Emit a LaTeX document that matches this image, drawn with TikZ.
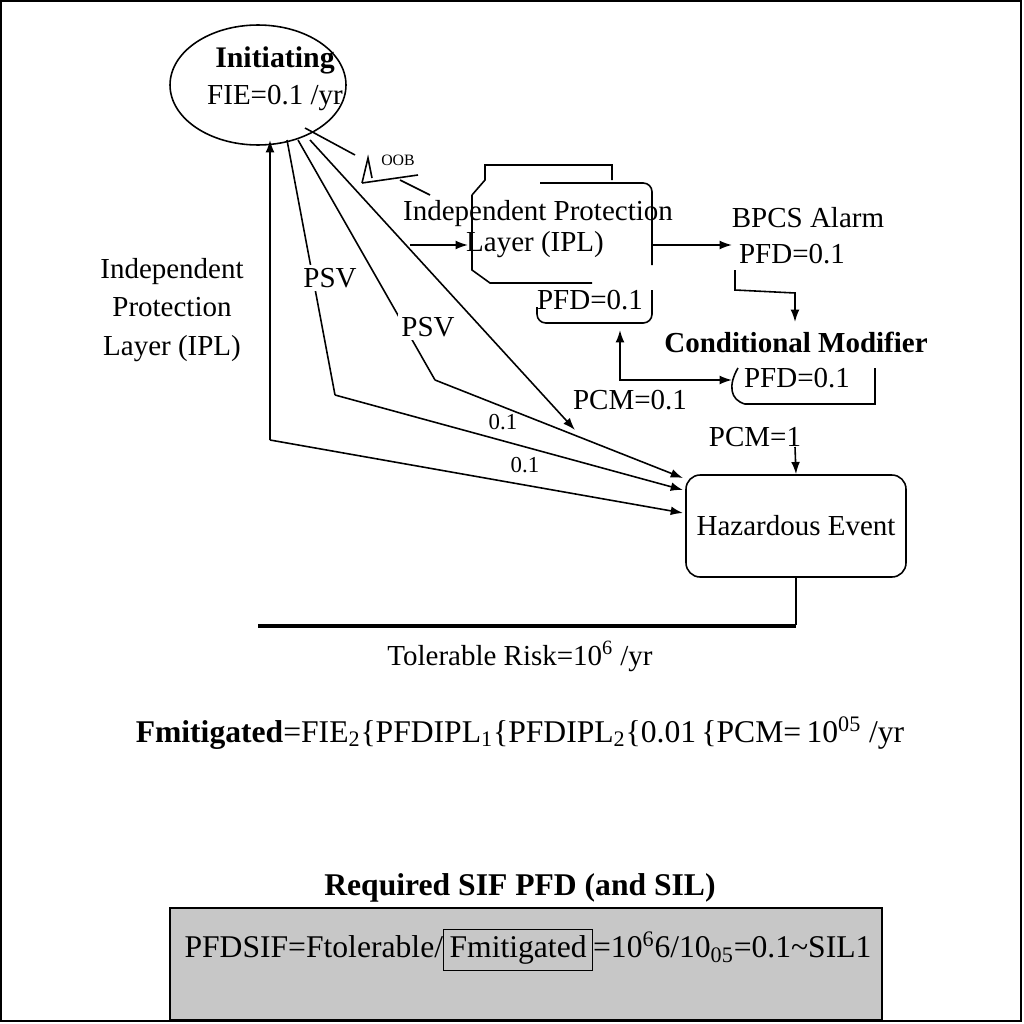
\documentclass[tikz,border=0pt]{standalone}
\usepackage{fontspec}
\setmainfont{Liberation Serif}
\usetikzlibrary{arrows.meta,shapes.geometric}
\newcommand{\fsz}{\fontsize{16.5}{18}\selectfont}
\begin{document}
\begin{tikzpicture}[x=0.02cm,y=-0.02cm,
  every node/.style={font=\fsz, inner sep=1pt},
  ln/.style={line width=0.9pt},
  ar/.style={ln,-{Latex[length=7pt,width=5pt]}},
  lab/.style={fill=white, inner sep=2pt}]
\useasboundingbox (0,0) rectangle (1024,1024);
\draw[line width=1pt] (1,1) rectangle (1021,1021);
% initiating
\node[draw,ellipse,ln,minimum width=3.52cm,minimum height=2.4cm] (init) at (258,85) {};
\node[font=\fontsize{17}{18}\selectfont\bfseries] (it) at (275,60) {Initiating};
\node (fie) at (275,98) {FIE=0.1 /yr};
% hazardous
\node[draw,ln,rounded corners=8pt,minimum width=4.4cm,minimum height=2.04cm] (haz) at (796,526) {Hazardous Event};
% points
\coordinate (a1) at (287,140); \coordinate (b1) at (335,395);
\coordinate (a2) at (298,140); \coordinate (b2) at (435,380);
\coordinate (a3) at (310,140); \coordinate (b3) at (575,430);
\coordinate (c0) at (270,440);
\coordinate (h1) at (683,478); \coordinate (h2) at (683,490); \coordinate (h3) at (683,513);
\draw[ln] (a1) -- (b1);
\node[lab] (psv1) at (330,278) {PSV};
\draw[ar] (b1) -- (h2);
\node (n1) at (503,422) {\fontsize{13}{14}\selectfont 0.1};
\draw[ln] (a2) -- (b2);
\node[lab] (psv2) at (428,327) {PSV};
\draw[ar] (b2) -- (h1);
\draw[ar] (a3) -- (b3);
\draw[ar] (c0) -- (270,140);
\draw[ar] (c0) -- (h3);
\node (n2) at (525,465) {\fontsize{13}{14}\selectfont 0.1};
% left label
\node[align=center,font=\fontsize{16.5}{22}\selectfont] (lipl) at (172,310) {Independent\\Protection\\Layer (IPL)};
% weird glyph
\draw[ln] (305,128) -- (355,155);
\node (gl) at (398,160) {\fontsize{9}{9}\selectfont OOB};
\draw[ln] (362,183) -- (368,158) -- (372,178); \draw[ln] (362,183)--(418,175);
\draw[ln] (400,180) -- (430,195);
% IPL box
\draw[ln] (472,195) -- (472,270) -- (490,283) -- (592,283);
\draw[ln] (472,195) -- (485,180) -- (485,165) -- (612,165) -- (612,180);
\draw[ln,rounded corners=5pt] (540,183) -- (652,183) -- (652,265);
\draw[ln,rounded corners=5pt] (537,307) -- (537,323) -- (652,323) -- (652,290);
\node (ipl) at (538,214) {Independent Protection};
\node (ipl2) at (535,245) {Layer (IPL)};
\node (pfd1) at (590,300) {PFD=0.1};
\coordinate (in1) at (410,245);
\draw[ar] (in1) -- (468,245);
\draw[ar] (652,245) -- (732,245);
% BPCS
\node (bp) at (808,218) {BPCS Alarm};
\node (bp2) at (792,254) {PFD=0.1};
\draw[ar] (735,270) -- (735,290) -- (795,293) -- (795,322);
\node (cm) at (796,342) {\bfseries Conditional Modifier};
\node (cm2) at (797,378) {PFD=0.1};
\draw[ln] (738,368) .. controls (728,385) and (730,400) .. (745,404) -- (875,404) -- (875,368);
\draw[ln,{Latex[length=7pt,width=5pt]}-{Latex[length=7pt,width=5pt]}] (620,330) -- (620,380) -- (732,380);
\node (pcm) at (630,400) {PCM=0.1};
\node (pcm1) at (755,437) {PCM=1};
\draw[ar] (795,447) -- (haz.north);
% tolerable
\draw[ln] (haz.south) -- (796,625);
\draw[line width=2pt] (258,626) -- (796,626);
\node (tol) at (520,656) {Tolerable Risk=10\textsuperscript{6} /yr};
\node (fm) at (520,733) {\fontsize{18}{20}\selectfont\textbf{Fmitigated}=FIE\textsubscript{2}\{PFDIPL\textsubscript{1}\{PFDIPL\textsubscript{2}\{0.01\,\{PCM=\,10\textsuperscript{05} /yr};
\node (req) at (520,888) {\fontsize{18}{20}\selectfont\bfseries Required SIF PFD (and SIL)};
\draw[line width=0.8pt,fill=black!22] (170,908) rectangle (882,1020);
\node (pf) at (528,950) {\fontsize{18}{20}\selectfont PFDSIF=Ftolerable/{\setlength{\fboxsep}{3pt}\setlength{\fboxrule}{0.7pt}\fbox{Fmitigated}}=10\textsuperscript{6}6/10\textsubscript{05}=0.1\textasciitilde SIL1};
\end{tikzpicture}
\end{document}
